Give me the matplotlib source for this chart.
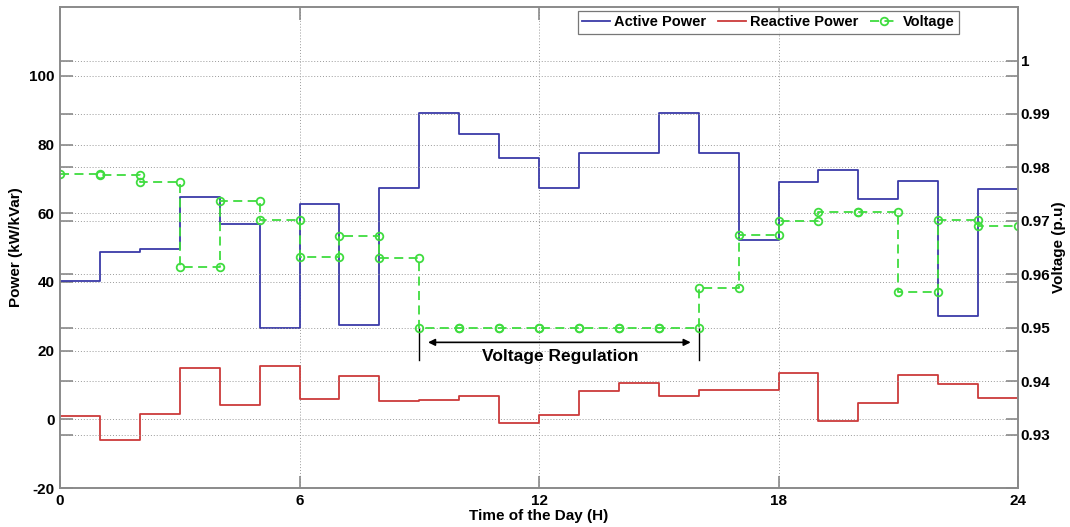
import matplotlib
matplotlib.use("Agg")
import matplotlib.pyplot as plt
import numpy as np

plt.rcParams["font.family"] = ["Liberation Sans", "DejaVu Sans"]
plt.rcParams["font.weight"] = "bold"
plt.rcParams["axes.labelweight"] = "bold"
plt.rcParams["axes.unicode_minus"] = False

# hourly profile, one value per hour 0..23
hours = np.arange(0, 25)
active_power = [40.3, 48.6, 49.6, 64.7, 56.9, 26.6, 62.7, 27.4, 67.2, 89.1,
                83.2, 76.2, 67.3, 77.4, 77.6, 89.1, 77.6, 52.3, 69.1, 72.5,
                64.1, 69.5, 30.1, 67.0]
reactive_power = [0.96, -6.1, 1.45, 14.9, 4.06, 15.45, 5.8, 12.7, 5.4, 5.6,
                  6.7, -1.2, 1.25, 8.2, 10.5, 6.7, 8.6, 8.6, 13.5, -0.6,
                  4.8, 12.8, 10.3, 6.2]
voltage = [0.9788, 0.9786, 0.9772, 0.9614, 0.9738, 0.9702, 0.9632, 0.9672,
           0.9630, 0.95, 0.95, 0.95, 0.95, 0.95, 0.95, 0.95, 0.9575, 0.9673,
           0.9699, 0.9717, 0.9716, 0.9567, 0.9702, 0.9691]
reg_start, reg_end = 9, 16

power_ticks = [-20, 0, 20, 40, 60, 80, 100]
volt_ticks = [0.93, 0.94, 0.95, 0.96, 0.97, 0.98, 0.99, 1.0]
volt_labels = ["0.93", "0.94", "0.95", "0.96", "0.97", "0.98", "0.99", "1"]
hour_ticks = [0, 6, 12, 18, 24]

BLUE = "#3a3aa8"
RED = "#cc3a3a"
GREEN = "#3fdc3f"
SPINE = "#8a8a8a"
GRID = "#9a9a9a"

fig = plt.figure(figsize=(10.7, 5.27), dpi=100)
ax = fig.add_axes([0.0561, 0.074, 0.8953, 0.9125])
ax2 = ax.twinx()

def stairs(vals):
    return np.append(vals, vals[-1])

ax.step(hours, stairs(active_power), where="post", color=BLUE, lw=1.3,
        label="Active Power")
ax.step(hours, stairs(reactive_power), where="post", color=RED, lw=1.3,
        label="Reactive Power")

# voltage drawn as stairs with a marker on every corner
vx = np.repeat(hours, 2)[1:-1]
vy = np.repeat(voltage, 2)
ax2.plot(vx, vy, "--o", color=GREEN, lw=1.3, markersize=5.5,
         markerfacecolor="none", markeredgewidth=1.3, dashes=(5, 3),
         label="Voltage")

ax.set_xlim(0, 24)
ax.set_ylim(-20, 120)
ax2.set_ylim(0.92, 1.01)
ax.set_xticks(hour_ticks)
ax.set_yticks(power_ticks)
ax2.set_yticks(volt_ticks)
ax2.set_yticklabels(volt_labels)

# dotted grid for both y scales
for t in power_ticks[1:]:
    ax.axhline(t, color=GRID, ls=(0, (1, 2)), lw=0.7, zorder=0)
for t in volt_ticks:
    ax2.axhline(t, color=GRID, ls=(0, (1, 2)), lw=0.7, zorder=0)
for t in hour_ticks[1:-1]:
    ax.axvline(t, color=GRID, ls=(0, (1, 2)), lw=0.7, zorder=0)

# box-style ticks on all sides
ax.tick_params(axis="both", direction="in", length=9, width=1.2, color=SPINE,
               labelsize=11, top=True, right=True, pad=4)
ax2.tick_params(axis="y", direction="in", length=9, width=1.2, color=SPINE,
                labelsize=11, left=True, pad=2)
for a in (ax, ax2):
    for s in a.spines.values():
        s.set_color(SPINE)
        s.set_linewidth(1.2)
for lab in ax.get_xticklabels() + ax.get_yticklabels() + ax2.get_yticklabels():
    lab.set_fontweight("bold")

ax.set_xlabel("Time of the Day (H)", fontsize=11, labelpad=1)
ax.set_ylabel("Power (kW/kVar)", fontsize=11, labelpad=4)
ax2.set_ylabel("Voltage (p.u)", fontsize=11, labelpad=1)

# regulation window marker
ax.plot([reg_start, reg_start], [17.4, 26.7], color="black", lw=1.0)
ax.plot([reg_end, reg_end], [17.4, 26.7], color="black", lw=1.0)
ax.annotate("", xy=(reg_start + 0.15, 22.4), xytext=(reg_end - 0.13, 22.4),
            arrowprops=dict(arrowstyle="<|-|>", color="black", lw=1.2,
                            mutation_scale=10))
ax.text((reg_start + reg_end) / 2 + 0.03, 18.3, "Voltage Regulation",
        ha="center", va="center", fontsize=12.5, fontweight="bold")

h1, l1 = ax.get_legend_handles_labels()
h2, l2 = ax2.get_legend_handles_labels()
leg = ax2.legend(h1 + h2, l1 + l2, loc="upper right", ncol=3,
                 bbox_to_anchor=(0.938, 0.992), fontsize=10.5, frameon=True,
                 fancybox=False, handlelength=1.9, handletextpad=0.3,
                 columnspacing=0.8, borderpad=0.3, borderaxespad=0)
leg.get_frame().set_edgecolor("#555555")
leg.get_frame().set_linewidth(0.9)
for t in leg.get_texts():
    t.set_fontweight("bold")

fig.savefig("out.png", dpi=100)
